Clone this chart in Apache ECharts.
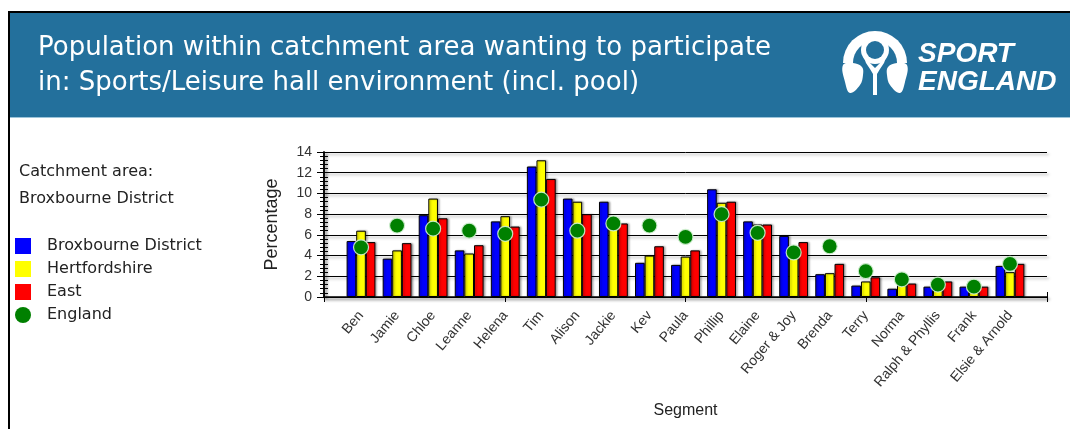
<!DOCTYPE html>
<html>
<head>
<meta charset="utf-8">
<script src="https://cdn.jsdelivr.net/npm/echarts@6/dist/echarts.min.js"></script>
<style>
  html, body { margin: 0; padding: 0; background: #fff; }
  #chart { width: 1070px; height: 429px; }
</style>
</head>
<body>
<div id="chart"></div>
<script>
// segments along the x axis
const segments = ['Ben', 'Jamie', 'Chloe', 'Leanne', 'Helena', 'Tim', 'Alison', 'Jackie', 'Kev', 'Paula',
  'Phillip', 'Elaine', 'Roger & Joy', 'Brenda', 'Terry', 'Norma', 'Ralph & Phyllis', 'Frank', 'Elsie & Arnold']

// percentages
const broxbourne = [5.4, 3.7, 7.9, 4.5, 7.3, 12.6, 9.5, 9.2, 3.3, 3.1, 10.4, 7.3, 5.9, 2.2, 1.1, 0.8, 1.0, 1.0, 3.0]
const hertfordshire = [6.4, 4.5, 9.5, 4.2, 7.8, 13.2, 9.2, 7.0, 4.0, 3.9, 9.1, 7.0, 4.8, 2.3, 1.5, 1.4, 1.2, 0.9, 2.4]
const east = [5.3, 5.2, 7.6, 5.0, 6.8, 11.4, 8.0, 7.1, 4.9, 4.5, 9.2, 7.0, 5.3, 3.2, 1.9, 1.3, 1.5, 1.0, 3.2]
const england = [4.8, 6.9, 6.6, 6.4, 6.1, 9.4, 6.4, 7.1, 6.9, 5.8, 8.0, 6.2, 4.3, 4.9, 2.5, 1.7, 1.2, 1.0, 3.2]

const yTicks = { min: 0, max: 14, interval: 2 }

const FONT = 'Liberation Sans, Arial, sans-serif'
const WIDE = 'DejaVu Sans, Verdana, sans-serif'
const HEADER = '#23709C'
const shadow = { shadowColor: 'rgba(0,0,0,0.35)', shadowBlur: 3, shadowOffsetX: 2, shadowOffsetY: 2 }

const chart = echarts.init(document.getElementById('chart'), undefined, { renderer: 'canvas' })

const barSeries = (name, data, color) => ({
  name,
  type: 'bar',
  xAxisIndex: 0,
  yAxisIndex: 2,
  barGap: '0%',
  barCategoryGap: '20%',
  itemStyle: { color, borderColor: '#000', borderWidth: 1, shadowColor: 'rgba(0,0,0,0.3)', shadowBlur: 2, shadowOffsetX: 1.5, shadowOffsetY: 0 },
  emphasis: { disabled: true },
  data
})

// rough Sport England mark, drawn in the header
const white = { fill: '#fff' }
const logo = [
  { type: 'sector', shape: { cx: 875, cy: 63, r: 32, r0: 0, startAngle: Math.PI, endAngle: Math.PI * 2 }, style: white },
  { type: 'sector', shape: { cx: 875, cy: 63, r: 22, r0: 0, startAngle: Math.PI, endAngle: Math.PI * 2 }, style: { fill: HEADER } },
  { type: 'polygon', shape: { points: [[863, 55], [866, 63], [870, 69], [873, 74], [877, 74], [880, 69], [884, 63], [887, 55], [883, 57], [880, 63], [875, 68], [870, 63], [867, 57]] }, style: white },
  { type: 'circle', shape: { cx: 875, cy: 50, r: 14 }, style: white },
  { type: 'circle', shape: { cx: 875, cy: 50, r: 9 }, style: { fill: HEADER } },
  { type: 'rect', shape: { x: 873, y: 70, width: 4, height: 25 }, style: white },
  { type: 'polygon', shape: { smooth: 0.4, points: [[843, 65], [853, 63], [862, 67], [863, 75], [860, 85], [850, 93], [845, 82]] }, style: white },
  { type: 'polygon', shape: { smooth: 0.4, points: [[907, 65], [897, 63], [888, 67], [887, 75], [890, 85], [900, 93], [905, 82]] }, style: white },
  { type: 'text', x: 918, y: 40, style: { text: 'SPORT', fill: '#fff', font: 'italic bold 28px ' + FONT } },
  { type: 'text', x: 918, y: 68, style: { text: 'ENGLAND', fill: '#fff', font: 'italic bold 28px ' + FONT } }
]

const hidden = { axisLine: { show: false }, axisLabel: { show: false }, splitLine: { show: false } }

chart.setOption({
  animation: false,
  backgroundColor: '#fff',
  textStyle: { fontFamily: FONT },
  graphic: [
    { type: 'rect', z: -10, shape: { x: 10, y: 13, width: 1060, height: 105 }, style: { fill: HEADER } },
    { type: 'rect', z: -10, shape: { x: 10, y: 117, width: 1060, height: 1 }, style: { fill: '#9cc4da' } },
    { type: 'rect', z: -10, shape: { x: 8, y: 11, width: 1062, height: 2 }, style: { fill: '#000' } },
    { type: 'rect', z: -10, shape: { x: 8, y: 11, width: 2, height: 418 }, style: { fill: '#000' } },
    ...logo
  ],
  title: [
    {
      text: 'Population within catchment area wanting to participate\nin: Sports/Leisure hall environment (incl. pool)',
      left: 38, top: 31, padding: 0,
      textStyle: { color: '#fff', fontSize: 26, fontWeight: 'normal', lineHeight: 35, fontFamily: WIDE }
    },
    {
      text: 'Catchment area:\nBroxbourne District',
      left: 19, top: 158, padding: 0,
      textStyle: { color: '#222', fontSize: 16, fontWeight: 'normal', lineHeight: 27, fontFamily: WIDE }
    }
  ],
  legend: {
    orient: 'vertical',
    left: 15, top: 238, padding: 0,
    itemWidth: 16, itemHeight: 16, itemGap: 7,
    selectedMode: false,
    textStyle: { fontSize: 16, color: '#222', fontFamily: WIDE, padding: [0, 0, 0, 11] },
    data: [
      { name: 'Broxbourne District', icon: 'rect', itemStyle: { borderWidth: 0, shadowBlur: 0, shadowOffsetX: 0 } },
      { name: 'Hertfordshire', icon: 'rect', itemStyle: { borderWidth: 0, shadowBlur: 0, shadowOffsetX: 0 } },
      { name: 'East', icon: 'rect', itemStyle: { borderWidth: 0, shadowBlur: 0, shadowOffsetX: 0 } },
      { name: 'England', icon: 'circle', itemStyle: { borderWidth: 0 } }
    ]
  },
  grid: [
    // frame: axes, gridlines, ticks
    { left: 324, right: 23, top: 152, bottom: 132 },
    // data: categories are inset from the frame
    { left: 343, right: 42, top: 152, bottom: 132 }
  ],
  xAxis: [
    {
      type: 'category', gridIndex: 1, data: segments,
      name: 'Segment', nameLocation: 'middle', nameGap: 106,
      nameTextStyle: { fontSize: 16, color: '#222' },
      axisLine: { show: false },
      axisTick: { show: false },
      axisLabel: { rotate: 50, interval: 0, fontSize: 14, color: '#333', margin: 16 }
    },
    {
      type: 'value', gridIndex: 0, position: 'bottom', min: 0, max: 4, interval: 1,
      axisLine: { show: true, lineStyle: { color: '#000', width: 1.5, ...shadow } },
      axisTick: { show: true, length: 5, lineStyle: { color: '#000' } },
      axisLabel: { show: false },
      splitLine: { show: false }
    },
    {
      type: 'value', gridIndex: 0, position: 'top', min: 0, max: 4, interval: 1,
      ...hidden,
      axisTick: { show: true, length: 5, lineStyle: { color: '#000' } }
    }
  ],
  yAxis: [
    {
      type: 'value', gridIndex: 0, position: 'left', ...yTicks,
      name: 'Percentage', nameLocation: 'middle', nameGap: 43,
      nameTextStyle: { fontSize: 18, color: '#222' },
      axisLine: { show: true, lineStyle: { color: '#000', width: 1.5, ...shadow } },
      axisTick: { show: true, length: 7, lineStyle: { color: '#000' } },
      minorTick: { show: false },
      axisLabel: { fontSize: 14, color: '#333', margin: 12 },
      splitLine: { show: true, lineStyle: { color: '#000', width: 1, ...shadow } }
    },
    {
      type: 'value', gridIndex: 0, position: 'right', ...yTicks,
      axisLine: { show: true, lineStyle: { color: '#000', width: 1.5, ...shadow } },
      axisTick: { show: true, inside: true, length: 5, lineStyle: { color: '#000' } },
      minorTick: { show: true, splitNumber: 5, length: 4, lineStyle: { color: '#000' } },
      axisLabel: { show: false },
      splitLine: { show: false }
    },
    {
      type: 'value', gridIndex: 1, ...yTicks, show: false
    },
    {
      // minor ticks pointing into the plot from the left axis
      type: 'value', gridIndex: 0, position: 'right', offset: -723, ...yTicks,
      ...hidden,
      axisTick: { show: false },
      minorTick: { show: true, splitNumber: 5, length: 4, lineStyle: { color: '#000' } }
    }
  ],
  series: [
    barSeries('Broxbourne District', broxbourne, '#0000FF'),
    barSeries('Hertfordshire', hertfordshire, '#FFFF00'),
    barSeries('East', east, '#FF0000'),
    {
      name: 'England',
      type: 'scatter',
      xAxisIndex: 0,
      yAxisIndex: 2,
      symbol: 'circle',
      symbolSize: 15,
      z: 5,
      itemStyle: { color: '#008000', borderColor: 'rgba(210,240,210,0.9)', borderWidth: 1.2, opacity: 1 },
      emphasis: { disabled: true },
      data: england
    }
  ]
})

window.addEventListener('resize', () => chart.resize())
</script>
</body>
</html>
